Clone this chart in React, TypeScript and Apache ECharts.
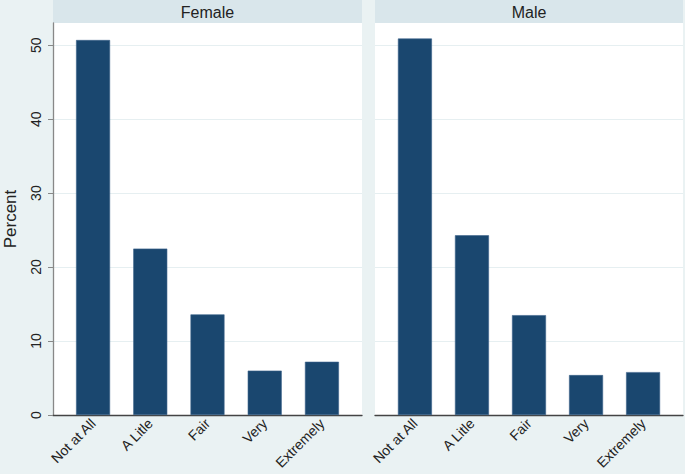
import React, { useEffect, useRef } from "react";
import * as echarts from "echarts";

const categories = ["Not at All", "A Litle", "Fair", "Very", "Extremely"];
const positions = [1, 2, 3, 4, 5];
const femaleValues = [50.7, 22.5, 13.6, 6.0, 7.2];
const maleValues = [50.9, 24.3, 13.5, 5.4, 5.8];
const yTicks = [0, 10, 20, 30, 40, 50];
const panelTitles = ["Female", "Male"];

const FONT = "'Liberation Sans', Arial, sans-serif";
const BAR = "#1A476F";
const BG = "#EAF2F3";

export default function App() {
  const ref = useRef<HTMLDivElement>(null);
  useEffect(() => {
    if (!ref.current) return;
    const chart = echarts.init(ref.current, undefined, { renderer: "svg" });
    const grids = [
      { left: 53, top: 23, width: 309, height: 392 },
      { left: 375, top: 23, width: 308, height: 392 },
    ];
    const xAxis = grids.map((_, i) => ({
      type: "value",
      gridIndex: i,
      min: 0.3,
      max: 5.7,
      splitLine: { show: false },
      axisLine: { show: true, onZero: false, lineStyle: { color: "#444", width: 1.3 } },
      axisTick: { show: false },
      axisLabel: {
        customValues: positions,
        rotate: 45,
        margin: 6,
        fontFamily: FONT,
        fontSize: 14,
        color: "#222",
        formatter: (v: number) => {
          const idx = positions.indexOf(Math.round(v * 1000) / 1000);
          return idx >= 0 ? categories[idx] : "";
        },
      },
    }));
    const yAxis = grids.map((_, i) => ({
      type: "value",
      gridIndex: i,
      min: 0,
      max: 53,
      interval: 10,
      name: i === 0 ? "Percent" : "",
      nameLocation: "middle",
      nameRotate: 90,
      nameGap: 34,
      nameTextStyle: { fontFamily: FONT, fontSize: 17, color: "#222" },
      axisLine: { show: i === 0, lineStyle: { color: "#888", width: 1.3 } },
      axisTick: {
        show: i === 0,
        length: 5,
        customValues: yTicks,
        lineStyle: { color: "#888" },
      },
      axisLabel: {
        show: i === 0,
        customValues: yTicks,
        rotate: 90,
        margin: 10,
        fontFamily: FONT,
        fontSize: 14,
        color: "#222",
      },
      splitLine: { show: true, lineStyle: { color: "#E6EFF1", width: 1 } },
    }));
    const mk = (vals: number[]) => vals.map((v, k) => [positions[k], v]);
    chart.setOption({
      animation: false,
      backgroundColor: BG,
      grid: grids.map((g) => ({
        ...g,
        show: true,
        backgroundColor: "#FFFFFF",
        borderWidth: 0,
        containLabel: false,
        outerBoundsMode: "none",
      })),
      xAxis,
      yAxis,
      series: [
        {
          type: "bar",
          xAxisIndex: 0,
          yAxisIndex: 0,
          data: mk(femaleValues),
          barWidth: 34,
          itemStyle: { color: BAR, borderColor: "#3a6189", borderWidth: 0.6 },
        },
        {
          type: "bar",
          xAxisIndex: 1,
          yAxisIndex: 1,
          data: mk(maleValues),
          barWidth: 34,
          itemStyle: { color: BAR, borderColor: "#3a6189", borderWidth: 0.6 },
        },
      ],
      graphic: grids.flatMap((g, i) => [
        {
          type: "rect",
          shape: { x: g.left, y: 0, width: g.width, height: 23 },
          style: { fill: "#D9E6EB" },
          silent: true,
        },
        {
          type: "text",
          x: g.left + g.width / 2,
          y: 12,
          style: {
            text: panelTitles[i],
            align: "center",
            verticalAlign: "middle",
            fontFamily: FONT,
            fontSize: 16,
            fill: "#222",
          },
          silent: true,
        },
      ]),
    });
    return () => chart.dispose();
  }, []);
  return (
    <div
      ref={ref}
      style={{ position: "fixed", left: 0, top: 0, width: 685, height: 474 }}
    />
  );
}
